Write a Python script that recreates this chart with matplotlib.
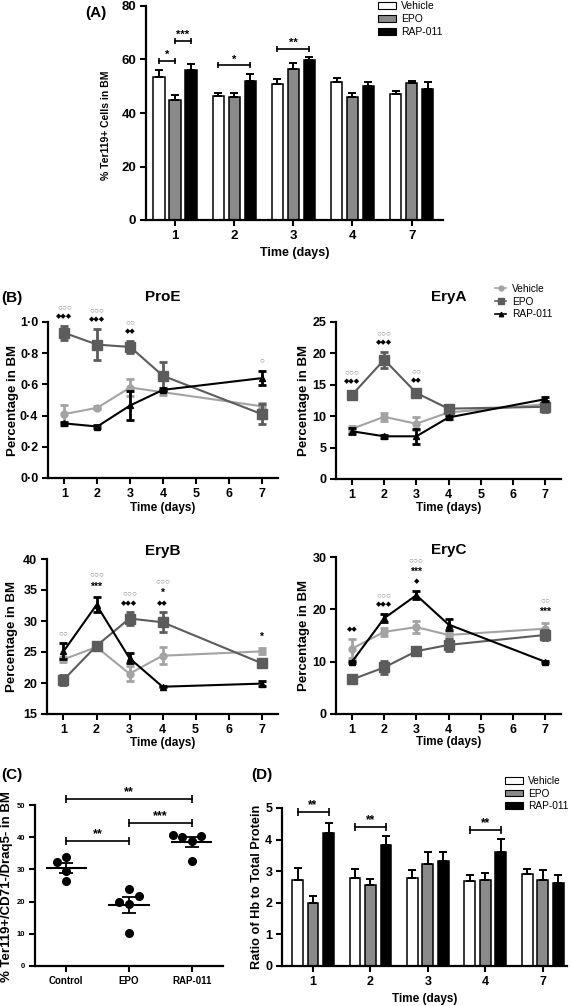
import numpy as np
import matplotlib
matplotlib.use('Agg')
import matplotlib.pyplot as plt
from matplotlib.patches import Patch
from matplotlib.lines import Line2D
from matplotlib.ticker import FuncFormatter

plt.rcParams['font.family'] = ['Liberation Sans', 'DejaVu Sans']
plt.rcParams['font.weight'] = 'bold'
plt.rcParams['axes.labelweight'] = 'bold'

# ---------------- data ----------------
groups = ['Vehicle', 'EPO', 'RAP-011']
days_cat = ['1', '2', '3', '4', '7']

# (A) % Ter119+ cells in BM
a_vehicle = [53.5, 46.5, 51.0, 51.6, 47.1]
a_vehicle_err = [2.5, 0.9, 1.7, 1.6, 1.3]
a_epo = [45.0, 45.9, 56.6, 46.1, 51.4]
a_epo_err = [1.6, 1.4, 2.2, 1.5, 0.7]
a_rap = [56.1, 52.0, 59.8, 50.2, 48.8]
a_rap_err = [2.4, 2.5, 1.0, 1.5, 2.9]
# (day index, group i, group j, bracket height, label)
a_brackets = [(0, 0, 1, 59.5, '*'), (0, 1, 2, 67.0, '***'),
              (1, 0, 2, 57.8, '*'), (2, 0, 2, 64.0, '**')]

# (B) time courses
days_b = [1, 2, 3, 4, 7]
proe_veh = [0.41, 0.45, 0.58, 0.55, 0.46]
proe_veh_err = [0.055, 0.01, 0.055, 0.015, 0.02]
proe_epo = [0.93, 0.855, 0.84, 0.655, 0.41]
proe_epo_err = [0.045, 0.10, 0.04, 0.09, 0.063]
proe_rap = [0.35, 0.33, 0.465, 0.565, 0.64]
proe_rap_err = [0.01, 0.01, 0.095, 0.01, 0.045]

eryA_veh = [8.0, 9.9, 8.8, 10.6, 11.9]
eryA_veh_err = [0.5, 0.6, 1.0, 0.4, 0.5]
eryA_epo = [13.4, 19.0, 13.7, 11.2, 11.5]
eryA_epo_err = [0.6, 1.3, 0.5, 0.6, 0.8]
eryA_rap = [7.6, 6.8, 6.8, 9.8, 12.7]
eryA_rap_err = [0.5, 0.2, 1.2, 0.3, 0.3]

eryB_veh = [23.8, 25.8, 21.5, 24.4, 25.1]
eryB_veh_err = [0.4, 0.5, 1.2, 1.4, 0.5]
eryB_epo = [20.5, 26.0, 30.4, 29.8, 23.2]
eryB_epo_err = [0.8, 0.6, 1.0, 1.6, 0.4]
eryB_rap = [25.1, 32.6, 24.0, 19.4, 19.9]
eryB_rap_err = [1.3, 1.2, 0.8, 0.1, 0.4]

eryC_veh = [12.5, 15.7, 16.6, 15.1, 16.3]
eryC_veh_err = [1.8, 0.8, 1.2, 0.5, 1.1]
eryC_epo = [6.6, 8.9, 12.0, 13.2, 15.1]
eryC_epo_err = [0.3, 1.2, 0.6, 1.2, 1.0]
eryC_rap = [10.0, 18.3, 22.7, 17.1, 10.0]
eryC_rap_err = [0.2, 0.8, 0.8, 1.1, 0.2]

# significance marks per day (listed bottom -> top)
proe_marks = {1: ['◆◆◆', '○○○'], 2: ['◆◆◆', '○○○'], 3: ['◆◆', '○○'], 7: ['○']}
eryA_marks = {1: ['◆◆◆', '○○○'], 2: ['◆◆◆', '○○○'], 3: ['◆◆', '○○']}
eryB_marks = {1: ['○○'], 2: ['***', '○○○'], 3: ['◆◆◆', '○○○'],
              4: ['◆◆', '*', '○○○'], 7: ['*']}
eryC_marks = {1: ['◆◆'], 2: ['◆◆◆', '○○○'], 3: ['◆', '***', '○○○'],
              7: ['***', '○○']}

# (C) individual animals
c_categories = ['Control', 'EPO', 'RAP-011']
c_control = [33.8, 32.2, 29.5, 26.4]
c_epo = [23.9, 21.7, 19.9, 19.1, 10.1]
c_rap = [40.2, 40.6, 40.4, 38.9, 32.7]
c_brackets = [(0, 1, 38.8, '**'), (1, 2, 44.4, '***'), (0, 2, 51.9, '**')]

# (D) Hb / total protein
d_vehicle = [2.72, 2.80, 2.77, 2.70, 2.90]
d_vehicle_err = [0.38, 0.27, 0.28, 0.18, 0.16]
d_epo = [2.00, 2.56, 3.24, 2.73, 2.72]
d_epo_err = [0.20, 0.19, 0.37, 0.20, 0.32]
d_rap = [4.22, 3.84, 3.32, 3.62, 2.62]
d_rap_err = [0.31, 0.26, 0.28, 0.39, 0.25]
d_brackets = [(0, 0, 2, 4.87, '**'), (1, 0, 2, 4.41, '**'), (3, 0, 2, 4.31, '**')]

# ---------------- styling ----------------
W, H = 572, 1006
fig = plt.figure(figsize=(W / 100, H / 100), dpi=100)

bar_colors = ['white', '#8a8a8a', 'black']
line_colors = ['#a3a3a3', '#5c5c5c', 'black']
line_markers = ['o', 's', '^']
marker_sizes = [5, 6.5, 4.5]
PT = 0.72  # points per pixel


def axes_px(l, t, r, b):
    return fig.add_axes([l / W, 1 - b / H, (r - l) / W, (b - t) / H])


def style(ax, tsize=9):
    for s in ['top', 'right']:
        ax.spines[s].set_visible(False)
    for s in ['left', 'bottom']:
        ax.spines[s].set_linewidth(1.6)
    ax.tick_params(width=1.5, length=4, labelsize=tsize, pad=3)


def place_labels(ax, l, t, r, b, xlab_y=None, ylab_x=None, ylab_y=None):
    if ylab_x is not None:
        yy = (b - ylab_y) / (b - t) if ylab_y is not None else 0.5
        ax.yaxis.set_label_coords((ylab_x - l) / (r - l), yy)
    if xlab_y is not None:
        ax.xaxis.set_label_coords(0.5, -(xlab_y - b) / (b - t))
    ax.yaxis.label.set_va('center')
    ax.xaxis.label.set_va('center')


def grouped_bars(ax, means, errs):
    x = np.arange(len(days_cat))
    offs = [-0.27, 0.0, 0.27]
    for k in range(3):
        ax.bar(x + offs[k], means[k], width=0.19, color=bar_colors[k],
               edgecolor='black', linewidth=1.1, zorder=2)
        ax.errorbar(x + offs[k], means[k], yerr=[np.zeros(len(x)), errs[k]],
                    fmt='none', ecolor='black', elinewidth=1.4, capsize=3,
                    capthick=1.4, zorder=3)
    return x, offs


def bracket(ax, x1, x2, y, label, fs=8, ms=5):
    ax.plot([x1, x2], [y, y], color='black', lw=1.2, marker='|', ms=ms,
            mew=1.2, clip_on=False, zorder=4)
    ax.annotate(label, ((x1 + x2) / 2, y), xytext=(0, 0.5), textcoords='offset points',
                ha='center', va='bottom', fontsize=fs, annotation_clip=False)


# ---------------- (A) ----------------
lA, tA, rA, bA = 146, 6, 443, 220
axA = axes_px(lA, tA, rA, bA)
style(axA, 9.5)
xA, offA = grouped_bars(axA, [a_vehicle, a_epo, a_rap],
                        [a_vehicle_err, a_epo_err, a_rap_err])
axA.set_xlim(-0.49, 4.53)
axA.set_ylim(0, 80)
axA.set_yticks([0, 20, 40, 60, 80])
axA.set_xticks(xA)
axA.set_xticklabels(days_cat)
axA.set_xlabel('Time (days)', fontsize=9)
axA.set_ylabel('% Ter119+ Cells in BM', fontsize=7.5)
place_labels(axA, lA, tA, rA, bA, xlab_y=253, ylab_x=106, ylab_y=125)
for d, i, j, y, lab in a_brackets:
    bracket(axA, d + offA[i], d + offA[j], y, lab, fs=8)
fig.legend(handles=[Patch(facecolor=c, edgecolor='black', linewidth=0.8) for c in bar_colors],
           labels=groups, loc='upper left', bbox_to_anchor=(377 / W, 1 - 0 / H),
           frameon=False, prop={'weight': 'normal', 'size': 7.5},
           handlelength=1.7, handleheight=0.7, handletextpad=0.5,
           labelspacing=0.3, borderpad=0.1, borderaxespad=0)
fig.text(96 / W, 1 - 13 / H, '(A)', fontsize=11, ha='center', va='center')

# ---------------- (B) ----------------
MARK_STYLE = {
    'circle': dict(fontsize=6.0, color='#8c8c8c', fontweight='normal'),
    'diamond': dict(fontsize=5.0, color='black'),
    'star': dict(fontsize=7.5, color='black'),
}


def mark_kind(s):
    if '○' in s:
        return 'circle'
    if '◆' in s:
        return 'diamond'
    return 'star'


def box_h(kind):
    # approximate text box height in pixels (line height ~1.17 em)
    return MARK_STYLE[kind]['fontsize'] / 72 * 100 * 1.17


def time_panel(box, title, series, errs, marks, ylim, yticks, fmt, title_pad,
               xlab_y, ylab_x):
    l, t, r, b = box
    ax = axes_px(l, t, r, b)
    style(ax, 9)
    for k in range(3):
        ax.errorbar(days_b, series[k], yerr=errs[k], color=line_colors[k],
                    marker=line_markers[k], ms=marker_sizes[k], lw=1.5,
                    elinewidth=2, capsize=3, capthick=2, clip_on=False,
                    zorder=2 + k)
    ax.set_xlim(0.5, 7.5)
    ax.set_ylim(*ylim)
    ax.set_xticks([1, 2, 3, 4, 5, 6, 7])
    ax.set_yticks(yticks)
    ax.yaxis.set_major_formatter(FuncFormatter(fmt))
    ax.set_title(title, fontsize=11, fontweight='bold', pad=title_pad)
    ax.set_xlabel('Time (days)', fontsize=8.5)
    ax.set_ylabel('Percentage in BM', fontsize=9.5)
    place_labels(ax, l, t, r, b, xlab_y=xlab_y, ylab_x=ylab_x)
    for day, syms in marks.items():
        i = days_b.index(day)
        top = max(series[k][i] + errs[k][i] for k in range(3))
        center = 5.0
        prev_h = 0.0
        for row, s in enumerate(syms):
            kind = mark_kind(s)
            h = box_h(kind)
            center += (prev_h + h) / 2 if row > 0 else h / 2
            prev_h = h
            ax.annotate(s, (day, top), xytext=(0, center * PT),
                        textcoords='offset points', ha='center', va='center',
                        annotation_clip=False, **MARK_STYLE[kind])
    return ax


dot_fmt1 = lambda v, p: ('%.1f' % v).replace('.', '·')
int_fmt = lambda v, p: '%d' % v

axProE = time_panel((48, 322, 278, 478), 'ProE', [proe_veh, proe_epo, proe_rap],
                    [proe_veh_err, proe_epo_err, proe_rap_err], proe_marks,
                    (0, 1.0), [0, 0.2, 0.4, 0.6, 0.8, 1.0], dot_fmt1, 15, 508, 13)
axEryA = time_panel((336, 322, 561, 479), 'EryA', [eryA_veh, eryA_epo, eryA_rap],
                    [eryA_veh_err, eryA_epo_err, eryA_rap_err], eryA_marks,
                    (0, 25), [0, 5, 10, 15, 20, 25], int_fmt, 15, 508, 304)
axEryB = time_panel((47, 559, 278, 714), 'EryB', [eryB_veh, eryB_epo, eryB_rap],
                    [eryB_veh_err, eryB_epo_err, eryB_rap_err], eryB_marks,
                    (15, 40), [15, 20, 25, 30, 35, 40], int_fmt, 3, 743, 12)
axEryC = time_panel((336, 557, 561, 714), 'EryC', [eryC_veh, eryC_epo, eryC_rap],
                    [eryC_veh_err, eryC_epo_err, eryC_rap_err], eryC_marks,
                    (0, 30), [0, 10, 20, 30], int_fmt, 2, 742, 304)

fig.legend(handles=[Line2D([], [], color=line_colors[k], marker=line_markers[k],
                           ms=marker_sizes[k] * 0.7, lw=1.2) for k in range(3)],
           labels=groups, loc='upper left', bbox_to_anchor=(494 / W, 1 - 283 / H),
           frameon=False, prop={'weight': 'normal', 'size': 7.3},
           handlelength=1.1, handletextpad=0.6, labelspacing=0.25,
           borderpad=0.1, borderaxespad=0)
fig.text(12 / W, 1 - 298 / H, '(B)', fontsize=11, ha='center', va='center')

# ---------------- (C) ----------------
def swarm_offsets(vals, py, px, diam=9.0, step=9.5):
    vals = np.asarray(vals, float)
    order = np.argsort(vals)
    placed = []
    offs = np.zeros(len(vals))
    for idx in order:
        y = vals[idx] * py
        for c in [0, -1, 1, -2, 2, -3, 3]:
            x = c * step
            if all(np.hypot(x - a, y - b) >= diam for a, b in placed):
                break
        placed.append((x, y))
        offs[idx] = x / px
    return offs


lC, tC, rC, bC = 35, 805, 223, 966
axC = axes_px(lC, tC, rC, bC)
style(axC, 5.5)
axC.tick_params(axis='x', labelsize=7)
py_c = (bC - tC) / 50.0
px_c = (rC - lC) / 3.0
for i, vals in enumerate([c_control, c_epo, c_rap]):
    v = np.asarray(vals)
    offs = swarm_offsets(v, py_c, px_c)
    axC.plot(i + offs, v, 'o', color='black', ms=5.5, zorder=3, clip_on=False)
    m = v.mean()
    sem = v.std(ddof=1) / np.sqrt(len(v))
    axC.hlines(m, i - 0.33, i + 0.33, color='black', lw=1.5, zorder=2)
    axC.errorbar(i, m, yerr=sem, fmt='none', ecolor='black', elinewidth=1.3,
                 capsize=5, capthick=1.3, zorder=2)
axC.set_xlim(-0.5, 2.5)
axC.set_ylim(0, 50)
axC.set_yticks([0, 10, 20, 30, 40, 50])
axC.set_xticks([0, 1, 2])
axC.set_xticklabels(c_categories)
axC.set_ylabel('% Ter119+/CD71-/Draq5- in BM', fontsize=9.5)
place_labels(axC, lC, tC, rC, bC, ylab_x=7, ylab_y=887)
for i, j, y, lab in c_brackets:
    bracket(axC, i, j, y, lab, fs=9, ms=6)
fig.text(12 / W, 1 - 775 / H, '(C)', fontsize=11, ha='center', va='center')

# ---------------- (D) ----------------
lD, tD, rD, bD = 282, 808, 567, 966
axD = axes_px(lD, tD, rD, bD)
style(axD, 9)
xD, offD = grouped_bars(axD, [d_vehicle, d_epo, d_rap],
                        [d_vehicle_err, d_epo_err, d_rap_err])
axD.set_xlim(-0.54, 4.42)
axD.set_ylim(0, 5)
axD.set_yticks([0, 1, 2, 3, 4, 5])
axD.set_xticks(xD)
axD.set_xticklabels(days_cat)
axD.set_xlabel('Time (days)', fontsize=8.5)
axD.set_ylabel('Ratio of Hb to Total Protein', fontsize=9.2)
place_labels(axD, lD, tD, rD, bD, xlab_y=999, ylab_x=257, ylab_y=887)
for d, i, j, y, lab in d_brackets:
    bracket(axD, d + offD[i], d + offD[j], y, lab, fs=8.5, ms=6)
fig.legend(handles=[Patch(facecolor=c, edgecolor='black', linewidth=0.8) for c in bar_colors],
           labels=groups, loc='upper left', bbox_to_anchor=(504 / W, 1 - 775 / H),
           frameon=False, prop={'weight': 'normal', 'size': 7.3},
           handlelength=1.8, handleheight=0.6, handletextpad=0.5,
           labelspacing=0.25, borderpad=0.1, borderaxespad=0)
fig.text(262 / W, 1 - 775 / H, '(D)', fontsize=11, ha='center', va='center')

fig.savefig('out.png', dpi=100)
